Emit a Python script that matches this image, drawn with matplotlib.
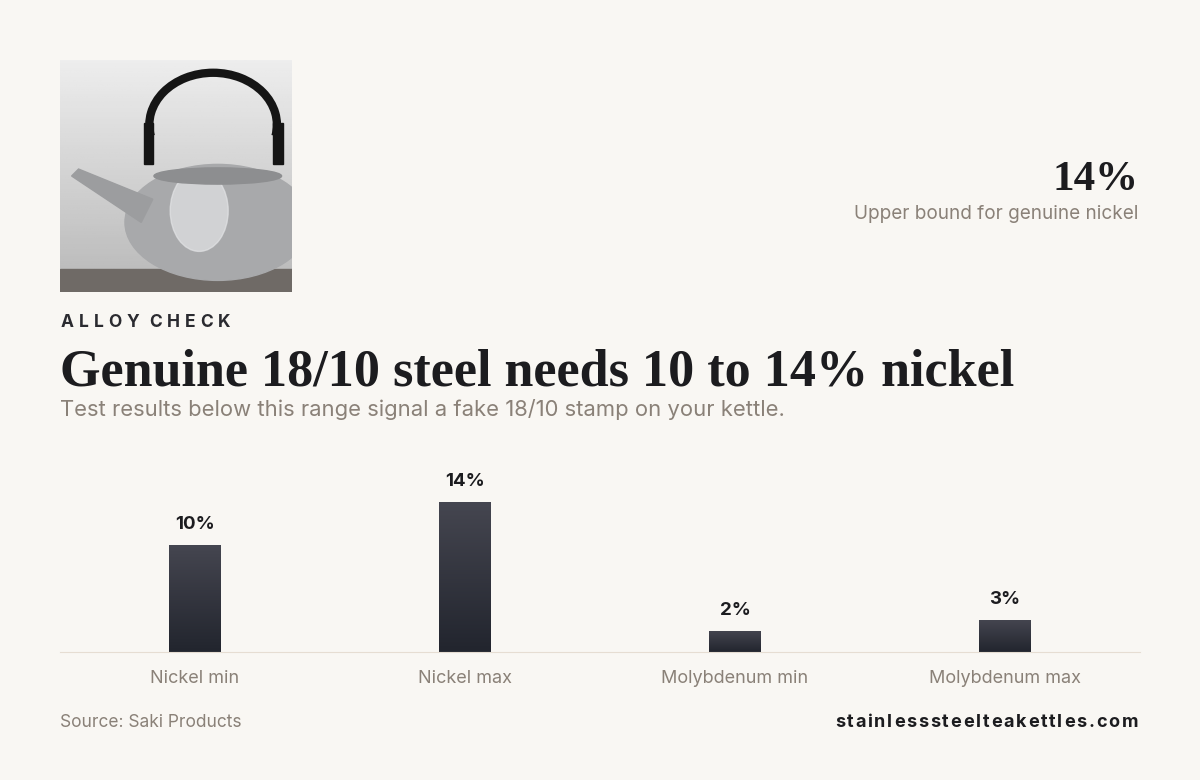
import numpy as np
import matplotlib
matplotlib.use("Agg")
import matplotlib.pyplot as plt
from matplotlib.patches import Rectangle, Ellipse, Arc, Polygon
from matplotlib.colors import LinearSegmentedColormap

# ── Data ──────────────────────────────────────────────────────────────────────
categories = ["Nickel min", "Nickel max", "Molybdenum min", "Molybdenum max"]
values = [10, 14, 2, 3]
value_labels = ["10%", "14%", "2%", "3%"]

BG = "#f9f7f3"
INK = "#1c1c1f"
MUTED = "#8a8178"
W, H = 1200, 780

fig = plt.figure(figsize=(W / 100, H / 100), dpi=100, facecolor=BG)
renderer = fig.canvas.get_renderer()


def fx(px):
    return px / W


def fy(py):
    return 1 - py / H


def fit_text(x_px, y_px, s, target_w, ha="left", **kw):
    """Place text and rescale its font so its width matches target_w pixels."""
    t = fig.text(fx(x_px), fy(y_px), s, ha=ha, va="baseline", **kw)
    w = t.get_window_extent(renderer).width
    t.set_fontsize(t.get_fontsize() * target_w / w)
    return t


def spaced_text(x0_px, x1_px, y_px, s, **kw):
    """Letter-spaced text filling x0..x1 pixels."""
    widths = []
    for ch in s:
        t = fig.text(0, 0, ch, **kw)
        widths.append(t.get_window_extent(renderer).width if ch != " " else 0)
        t.remove()
    gap = (x1_px - x0_px - sum(widths)) / (len(s) - 1)
    x = x0_px
    for ch, w in zip(s, widths):
        if ch != " ":
            fig.text(fx(x), fy(y_px), ch, ha="left", va="baseline", **kw)
        x += w + gap


# ── Photo placeholder (kettle) ────────────────────────────────────────────────
pax = fig.add_axes([fx(60), fy(292), fx(232), 232 / H])
pax.set_xlim(0, 1)
pax.set_ylim(0, 1)
pax.axis("off")
grad = np.linspace(0.93, 0.72, 100).reshape(-1, 1)
pax.imshow(grad, cmap="gray", vmin=0, vmax=1, extent=[0, 1, 0, 1], aspect="auto")
pax.add_patch(Rectangle((0, 0), 1, 0.1, color="#6f6a66"))
pax.add_patch(Ellipse((0.68, 0.3), 0.8, 0.5, color="#a8a9ab"))
pax.add_patch(Ellipse((0.6, 0.35), 0.25, 0.35, color="#e3e4e6", alpha=0.7))
pax.add_patch(Ellipse((0.68, 0.5), 0.55, 0.07, color="#8d8e90"))
pax.add_patch(Polygon([[0.35, 0.3], [0.05, 0.5], [0.08, 0.53], [0.4, 0.4]], color="#9c9d9f"))
pax.add_patch(Arc((0.66, 0.72), 0.55, 0.45, theta1=-10, theta2=190, lw=6, color="#151515"))
pax.add_patch(Rectangle((0.36, 0.55), 0.04, 0.18, color="#151515"))
pax.add_patch(Rectangle((0.92, 0.55), 0.04, 0.18, color="#151515"))

# ── Texts ─────────────────────────────────────────────────────────────────────
fit_text(1138, 190, "14%", 86, ha="right", fontsize=40,
         family="Liberation Serif", weight="bold", color=INK)
fit_text(1138, 219, "Upper bound for genuine nickel", 283, ha="right",
         fontsize=13, family="Inter", color=MUTED)
spaced_text(61, 230, 327, "ALLOY CHECK", fontsize=12.5, family="Inter",
            weight="bold", color="#2b2b30")
fit_text(60, 385, "Genuine 18/10 steel needs 10 to 14% nickel", 953,
         fontsize=35, family="Liberation Serif", weight="bold", color=INK)
fit_text(60, 416, "Test results below this range signal a fake 18/10 stamp on your kettle.",
         722, fontsize=14.5, family="Inter", color=MUTED)
fig.text(fx(60), fy(727), "Source: Saki Products", ha="left", va="baseline",
         fontsize=12.5, family="Inter", color=MUTED)
spaced_text(835, 1138, 727, "stainlesssteelteakettles.com", fontsize=13,
            family="Inter", weight="bold", color=INK)

# ── Bar chart ─────────────────────────────────────────────────────────────────
y_top_px = 460
ax = fig.add_axes([fx(60), fy(652), fx(1080), (652 - y_top_px) / H])
ax.set_facecolor("none")
px_per_unit = 150 / 14
ymax = (652 - y_top_px) / px_per_unit
bw = 52 / 270
bars = ax.bar(range(len(categories)), values, width=bw, color="none", edgecolor="none")
grad_bar = np.linspace(0, 1, 100).reshape(-1, 1)
bar_cmap = LinearSegmentedColormap.from_list("bar", ["#22252e", "#454650"])
for b, lab in zip(bars, value_labels):
    x0, h = b.get_x(), b.get_height()
    im = ax.imshow(grad_bar, cmap=bar_cmap, origin="lower",
                   extent=[x0, x0 + bw, 0, h], aspect="auto", zorder=2)
    im.set_clip_path(b)
    ax.text(x0 + bw / 2, h + 12 / px_per_unit, lab, ha="center", va="bottom",
            fontsize=13.5, family="Inter", weight="bold", color=INK)
ax.set_xlim(-0.5, len(categories) - 0.5)
ax.set_ylim(0, ymax)
for s in ["top", "right", "left"]:
    ax.spines[s].set_visible(False)
ax.spines["bottom"].set_color("#e6ddd2")
ax.set_yticks([])
ax.set_xticks(range(len(categories)))
ax.set_xticklabels(categories, fontsize=13, family="Inter", color=MUTED)
ax.tick_params(axis="x", length=0, pad=13)

fig.savefig("out.png", dpi=100, facecolor=BG)
